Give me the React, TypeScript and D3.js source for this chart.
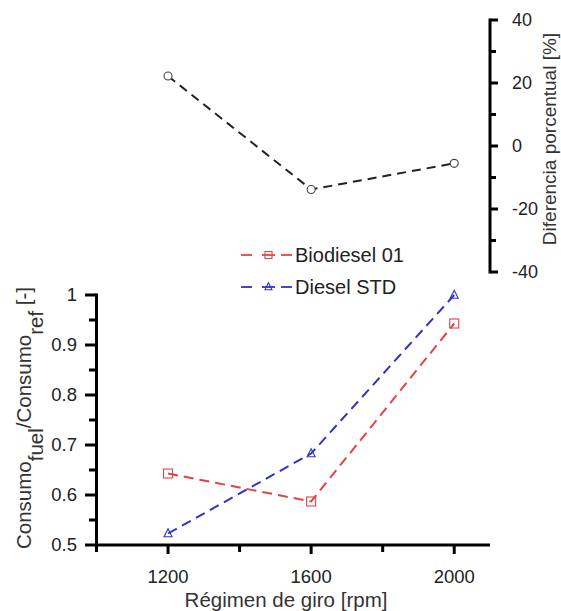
import React from "react";
import * as d3 from "d3";

const rpm = [1200, 1600, 2000];
const biodiesel = [0.643, 0.587, 0.943];
const dieselStd = [0.523, 0.683, 1.0];
const diferencia = [22.2, -13.8, -5.5];
const xTicks = [1200, 1600, 2000];
const xMinor = [1000, 1400, 1800];
const yTicks = [0.5, 0.6, 0.7, 0.8, 0.9, 1];
const yMinor = [0.55, 0.65, 0.75, 0.85, 0.95];
const rTicks = [40, 20, 0, -20, -40];
const rMinor = [30, 10, -10, -30];
const seriesNames = ["Biodiesel 01", "Diesel STD"];

const W = 561, H = 611;
const FONT = "Liberation Sans, Arial, sans-serif";

export default function App() {
  const x = d3.scaleLinear().domain([1000, 2100]).range([96.5, 490]);
  const y = d3.scaleLinear().domain([0.5, 1]).range([545, 295]);
  const yr = d3.scaleLinear().domain([-40, 40]).range([272, 20]);
  const axisX = 490;

  const line = d3.line<[number, number]>().x(d => d[0]).y(d => d[1]);
  const bioPts: [number, number][] = rpm.map((r, i) => [x(r), y(biodiesel[i])]);
  const dieselPts: [number, number][] = rpm.map((r, i) => [x(r), y(dieselStd[i])]);
  const difPts: [number, number][] = rpm.map((r, i) => [x(r), yr(diferencia[i])]);

  const red = "#e04448";
  const blue = "#3232c8";
  const sq = (cx: number, cy: number, key: string, s = 9) => (
    <rect key={key} x={cx - s / 2} y={cy - s / 2} width={s} height={s} fill="none" stroke={red} strokeWidth={1.1} />
  );
  const tri = (cx: number, cy: number, key: string, s = 8) => (
    <path key={key} d={`M${cx},${cy - s * 0.6}L${cx + s / 2},${cy + s * 0.4}L${cx - s / 2},${cy + s * 0.4}Z`} fill="none" stroke={blue} strokeWidth={1.1} />
  );

  return (
    <svg width={W} height={H} style={{ position: "absolute", left: 0, top: 0, background: "#fff" }} fontFamily={FONT}>
      {/* Top chart */}
      <path d={line(difPts) || ""} fill="none" stroke="#222" strokeWidth={2} strokeDasharray="9,6" />
      {difPts.map((p, i) => (
        <circle key={"c" + i} cx={p[0]} cy={p[1]} r={4} fill="#fff" stroke="#444" strokeWidth={1.1} />
      ))}
      {/* Right axis */}
      <line x1={axisX} x2={axisX} y1={yr(40) - 1.5} y2={yr(-40) + 1.5} stroke="#000" strokeWidth={3} />
      {rTicks.map(t => (
        <g key={"rt" + t}>
          <line x1={axisX} x2={axisX + 8} y1={yr(t)} y2={yr(t)} stroke="#000" strokeWidth={3} />
          <text x={512} y={yr(t)} dy="0.35em" fontSize={18} fill="#222">{t}</text>
        </g>
      ))}
      {rMinor.map(t => (
        <line key={"rm" + t} x1={axisX} x2={axisX + 6} y1={yr(t)} y2={yr(t)} stroke="#000" strokeWidth={3} />
      ))}
      <text transform={`translate(549,139) rotate(-90)`} textAnchor="middle" dy="0.35em" fontSize={19} fill="#333">
        Diferencia porcentual [%]
      </text>

      {/* Legend */}
      {[0, 1].map(i => {
        const ly = 255 + i * 32;
        const col = i === 0 ? red : blue;
        return (
          <g key={"lg" + i}>
            <line x1={241} x2={252} y1={ly} y2={ly} stroke={col} strokeWidth={1.8} />
            <line x1={281} x2={292} y1={ly} y2={ly} stroke={col} strokeWidth={1.8} />
            <line x1={262} x2={275} y1={ly} y2={ly} stroke={col} strokeWidth={1.8} />
            {i === 0 ? sq(268.5, ly, "ls", 7) : tri(268.5, ly, "lt", 7)}
            <text x={295} y={ly} dy="0.35em" fontSize={20} fill="#222">{seriesNames[i]}</text>
          </g>
        );
      })}

      {/* Bottom chart lines */}
      <path d={line(bioPts) || ""} fill="none" stroke={red} strokeWidth={2} strokeDasharray="10,6" />
      <path d={line(dieselPts) || ""} fill="none" stroke={blue} strokeWidth={2} strokeDasharray="10,6" />
      {bioPts.map((p, i) => sq(p[0], p[1], "s" + i))}
      {dieselPts.map((p, i) => tri(p[0], p[1], "t" + i))}

      {/* Bottom axes */}
      <line x1={96.5} x2={96.5} y1={y(1) - 1.5} y2={y(0.5)} stroke="#000" strokeWidth={3} />
      <line x1={95} x2={x(2100)} y1={y(0.5)} y2={y(0.5)} stroke="#000" strokeWidth={3} />
      {yTicks.map(t => (
        <g key={"yt" + t}>
          <line x1={85} x2={96.5} y1={y(t)} y2={y(t)} stroke="#000" strokeWidth={3} />
          <text x={77} y={y(t)} dy="0.35em" textAnchor="end" fontSize={18.5} fill="#222">{t}</text>
        </g>
      ))}
      {yMinor.map(t => (
        <line key={"ym" + t} x1={89} x2={96.5} y1={y(t)} y2={y(t)} stroke="#000" strokeWidth={3} />
      ))}
      {xTicks.map(t => (
        <g key={"xt" + t}>
          <line x1={x(t)} x2={x(t)} y1={y(0.5)} y2={y(0.5) + 9} stroke="#000" strokeWidth={3} />
          <text x={x(t)} y={577} dy="0.35em" textAnchor="middle" fontSize={18.5} fill="#222">{t}</text>
        </g>
      ))}
      {xMinor.map(t => (
        <line key={"xm" + t} x1={x(t)} x2={x(t)} y1={y(0.5)} y2={y(0.5) + 7} stroke="#000" strokeWidth={3} />
      ))}
      <text x={286} y={600} dy="0.35em" textAnchor="middle" fontSize={20.5} fill="#333">Régimen de giro [rpm]</text>
      <text transform={`translate(24,418) rotate(-90)`} textAnchor="middle" dy="0.35em" fontSize={20.5} fill="#333">
        Consumo<tspan baselineShift="sub">fuel</tspan>/Consumo<tspan baselineShift="sub">ref</tspan> [-]
      </text>
    </svg>
  );
}
